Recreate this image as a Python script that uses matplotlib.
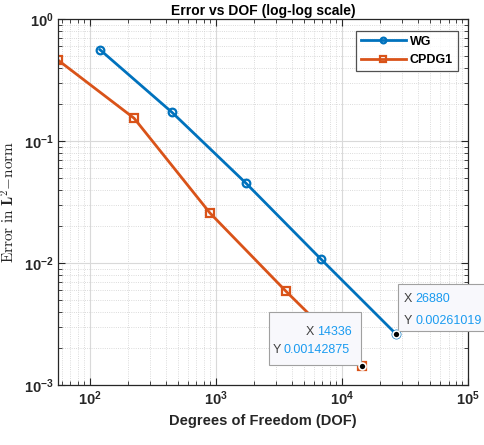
import matplotlib
matplotlib.use("Agg")
import matplotlib.pyplot as plt
import matplotlib.transforms as mtransforms
from matplotlib.patches import Rectangle

# data
wg_dof = [120, 448, 1728, 6784, 26880]
wg_err = [0.562, 0.172, 0.0452, 0.0108, 0.00261019]
cpdg_dof = [56, 224, 896, 3584, 14336]
cpdg_err = [0.46, 0.154, 0.0257, 0.00588, 0.00142875]

BLUE = "#0072BD"
ORANGE = "#D95319"
TIP_BLUE = "#1A9BF0"

plt.rcParams["font.family"] = ["Liberation Sans", "DejaVu Sans"]
# bold sans for the 10^k tick labels
plt.rcParams["mathtext.fontset"] = "custom"
plt.rcParams["mathtext.rm"] = "Liberation Sans:bold"
plt.rcParams["mathtext.bf"] = "Liberation Sans:bold"
plt.rcParams["mathtext.it"] = "Liberation Sans:bold"

fig = plt.figure(figsize=(4.85, 4.45), dpi=100)
ax = fig.add_axes([0.12, 0.135, 0.845, 0.822])

ax.loglog(wg_dof, wg_err, "-o", color=BLUE, lw=2, ms=5.5, mfc="none",
          mew=1.6, label="WG")
ax.loglog(cpdg_dof, cpdg_err, "-s", color=ORANGE, lw=2, ms=5.5, mfc="none",
          mew=1.6, label="CPDG1")

ax.set_xlim(56, 1e5)
ax.set_ylim(1e-3, 1e0)

ax.grid(True, which="major", color="#d9d9d9", lw=0.8, ls="-")
ax.grid(True, which="minor", color="#cfcfcf", lw=0.6, ls=":")
ax.set_axisbelow(True)

ax.tick_params(which="both", direction="in", top=True, right=True,
               colors="#262626", labelsize=10.5)
ax.tick_params(which="major", length=5)
ax.tick_params(which="minor", length=3)
for lab in ax.get_xticklabels() + ax.get_yticklabels():
    lab.set_fontweight("bold")
for sp in ax.spines.values():
    sp.set_color("#262626")
    sp.set_linewidth(0.9)

ax.set_title("Error vs DOF (log-log scale)", fontsize=10, fontweight="bold",
             pad=3)
ax.set_xlabel("Degrees of Freedom (DOF)", fontsize=10.5, fontweight="bold",
              color="#262626")
ax.set_ylabel(r"$\mathrm{Error\ in\ }\mathbf{L}^2\mathrm{-norm}$",
              fontsize=11, color="#262626", labelpad=4, math_fontfamily="cm")

leg = ax.legend(loc="upper right", fontsize=9, frameon=True, fancybox=False,
                edgecolor="#262626", borderpad=0.4, handlelength=3.6,
                handletextpad=0.3, markerscale=0.75,
                bbox_to_anchor=(0.99, 0.985))
leg.get_frame().set_linewidth(0.9)
for t in leg.get_texts():
    t.set_fontweight("bold")


def datatip(x, y, dx, dy, w, h, lines):
    # box and labels placed in inches relative to the data point
    trans = fig.dpi_scale_trans + mtransforms.ScaledTranslation(x, y, ax.transData)
    ax.add_patch(Rectangle((dx, dy), w, h, transform=trans, clip_on=False,
                           facecolor="#f8f8fc", edgecolor="#a0a0a0", lw=0.8,
                           zorder=5))
    for lx, vx, ly, key, val in lines:
        ax.text(lx, ly, key, transform=trans, fontsize=9, color="#404040",
                va="center", ha="left", zorder=6, clip_on=False)
        ax.text(vx, ly, val, transform=trans, fontsize=9, color=TIP_BLUE,
                va="center", ha="left", zorder=6, clip_on=False)
    ax.plot([x], [y], "o", ms=5, color="black", mec="white", mew=1.2,
            zorder=7, clip_on=False)


datatip(wg_dof[-1], wg_err[-1], 0.02, 0.03, 0.9, 0.47,
        [(0.08, 0.19, 0.35, "X", "26880"),
         (0.08, 0.19, 0.13, "Y", "0.00261019")])
datatip(cpdg_dof[-1], cpdg_err[-1], -0.93, 0.01, 0.92, 0.53,
        [(-0.56, -0.45, 0.34, "X", "14336"),
         (-0.89, -0.78, 0.16, "Y", "0.00142875")])

fig.savefig("out.png", dpi=100)
